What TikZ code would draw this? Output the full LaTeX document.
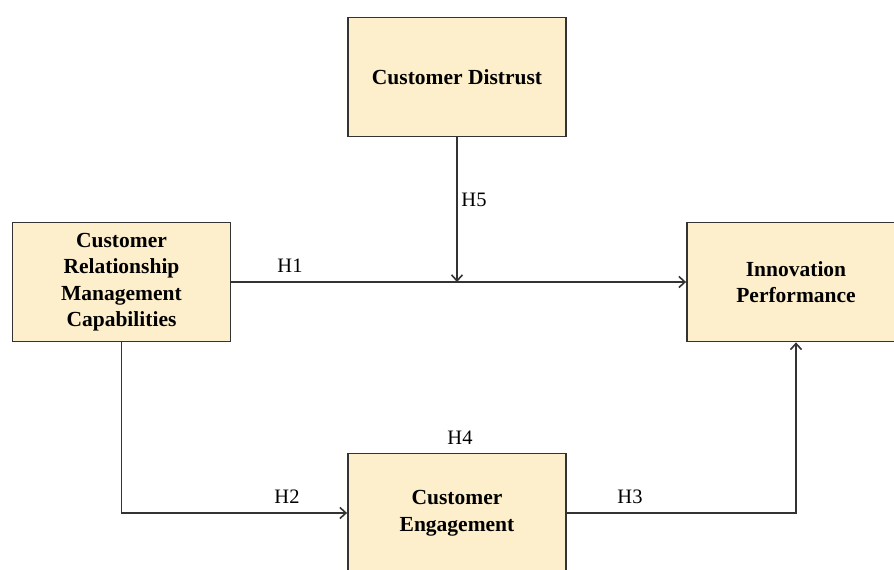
\documentclass[tikz,border=0pt]{standalone}
\usepackage{fontspec}
\setmainfont{Liberation Serif}
\usetikzlibrary{positioning, arrows.meta}
\definecolor{boxfill}{HTML}{FDEFCB}
\definecolor{boxline}{HTML}{333333}
\tikzset{
    varbox/.style={
        rectangle,
        draw=boxline, % 边框颜色
        fill=boxfill, % 浅黄填充
        line width=1.8pt,
        minimum width=218pt,
        minimum height=119pt,
        align=center,
        inner sep=0,
        font=\bfseries\fontsize{21.5}{26.5}\selectfont
    },
    hlabel/.style={
        inner sep=1pt,
        font=\fontsize{20.5}{22}\selectfont
    },
    link/.style={
        draw=boxline,
        line width=1.6pt,
        -{Straight Barb[length=6pt,width=11pt]}
    }
}

\begin{document}
\begin{tikzpicture}[x=1pt, y=-1pt]
            \clip (0,0) rectangle (894,570);
            % 变量框
            \node[varbox] (distrust) at (457,77) {Customer Distrust};
            \node[varbox] (crm) at (121.5,282) {Customer\\Relationship\\Management\\Capabilities};
            \node[varbox] (innov) at (796,282) {Innovation\\Performance};
            \node[varbox] (engage) at (457,513) {Customer\\Engagement};
            \coordinate (meet) at (457,282);
            % 假设路径
            \draw[link] (crm) -- (innov);
            \draw[link] (distrust) -- (meet);
            \draw[link] (crm.south) |- (engage.west);
            \draw[link] (engage.east) -| (innov.south);
            % 标签
            \node[hlabel] (h1) at (290,266) {H1};
            \node[hlabel] (h5) at (474,200) {H5};
            \node[hlabel] (h2) at (287,497) {H2};
            \node[hlabel] (h3) at (630,497) {H3};
            \node[hlabel] (h4) at (460,438) {H4};
\end{tikzpicture}
\end{document}
